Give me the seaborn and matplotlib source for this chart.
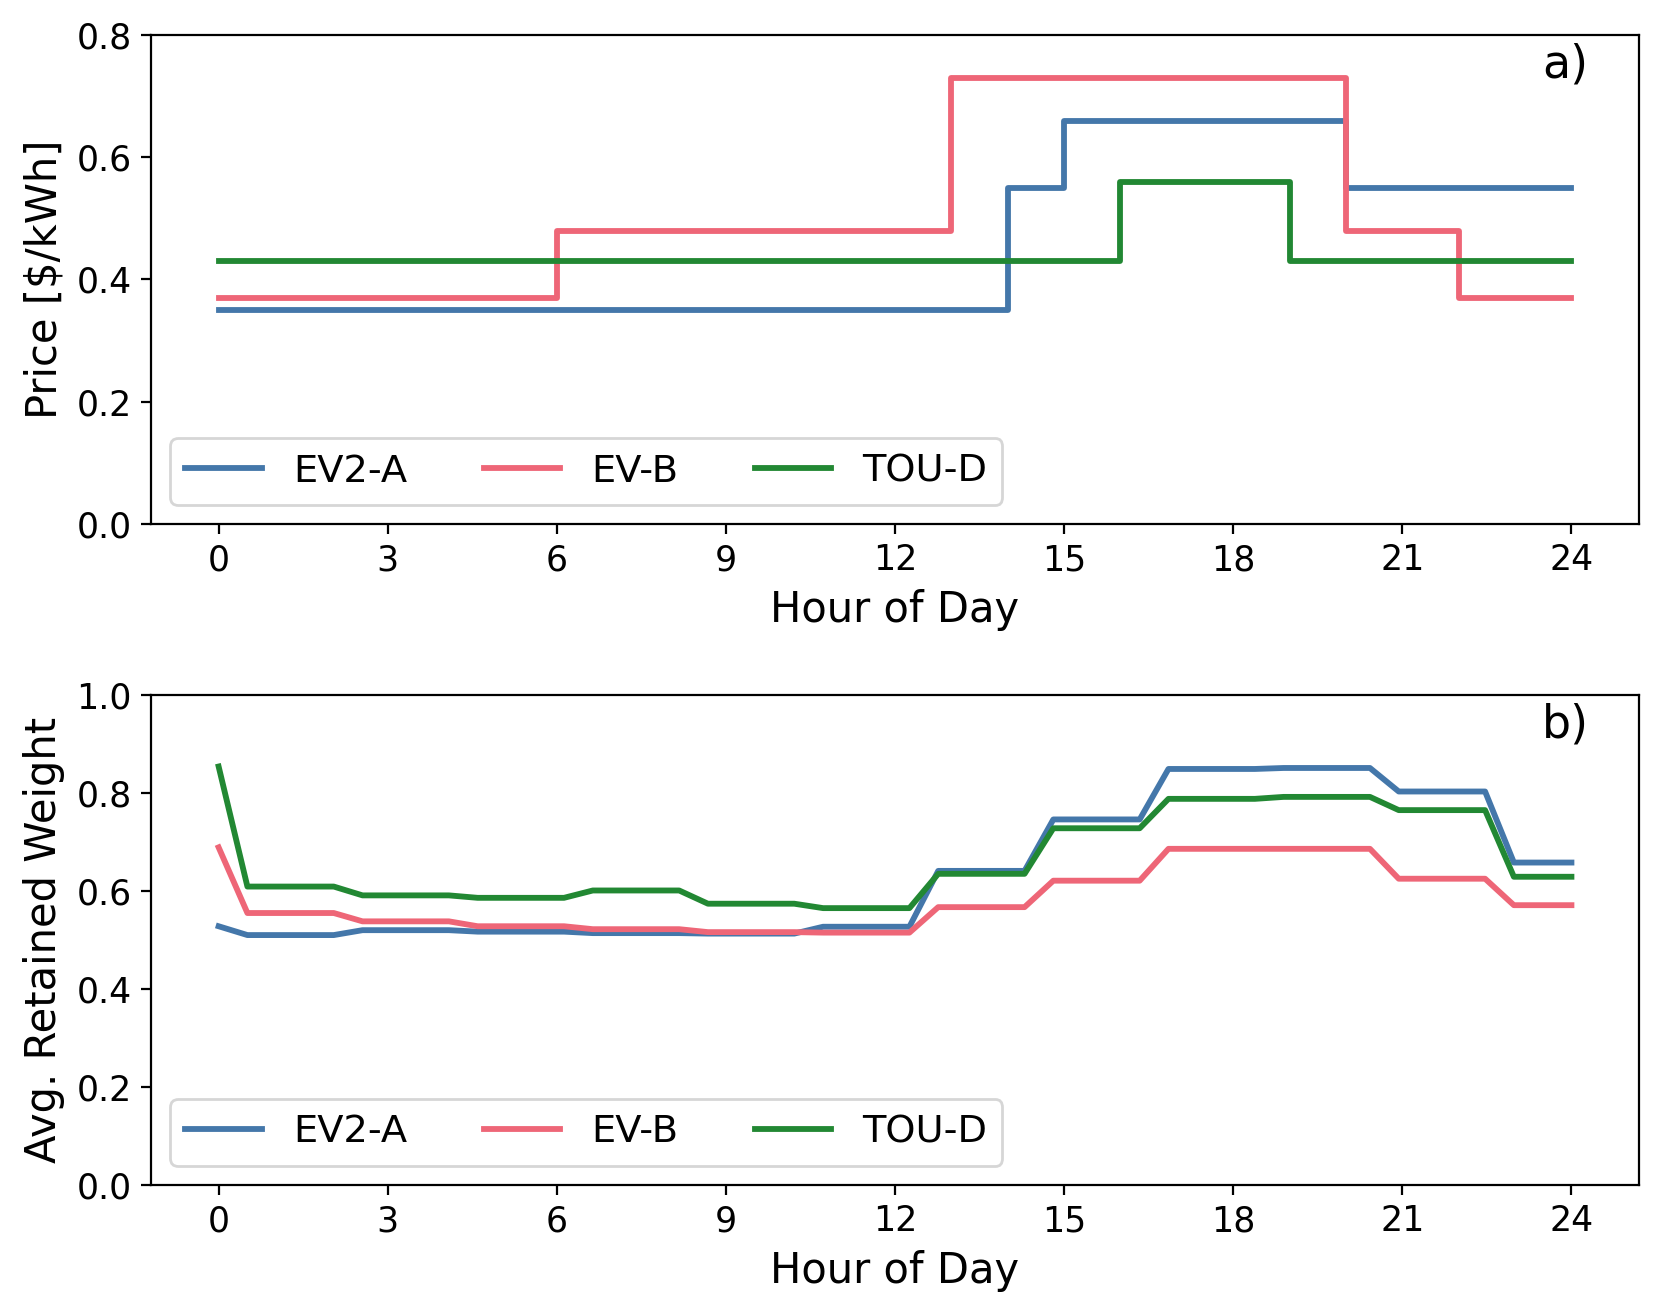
import numpy as np
import pandas as pd
import matplotlib
matplotlib.use("Agg")
import matplotlib.pyplot as plt
import seaborn as sns

# Tarifs (heures de changement, prix en $/kWh) - tracés en escalier
tariffs = ["EV2-A", "EV-B", "TOU-D"]
ev2a_hours = [0, 14, 15, 20, 24]
ev2a_price = [0.35, 0.55, 0.66, 0.55, 0.55]
evb_hours = [0, 6, 13, 20, 22, 24]
evb_price = [0.37, 0.48, 0.73, 0.48, 0.37, 0.37]
toud_hours = [0, 16, 19, 24]
toud_price = [0.43, 0.56, 0.43, 0.43]

# Poids retenu moyen (48 pas sur la journée)
hours_b = np.linspace(0, 24, 48)
ev2a_weight = ([0.528] + [0.510] * 4 + [0.520] * 4 + [0.517] * 4 + [0.514] * 4
               + [0.513] * 4 + [0.527] * 4 + [0.641] * 4 + [0.746] * 4
               + [0.849] * 4 + [0.851] * 4 + [0.803] * 4 + [0.658] * 3)
evb_weight = ([0.689] + [0.555] * 4 + [0.538] * 4 + [0.528] * 4 + [0.522] * 4
              + [0.516] * 4 + [0.515] * 4 + [0.567] * 4 + [0.621] * 4
              + [0.686] * 4 + [0.686] * 4 + [0.625] * 4 + [0.571] * 3)
toud_weight = ([0.854] + [0.609] * 4 + [0.591] * 4 + [0.586] * 4 + [0.601] * 4
               + [0.574] * 4 + [0.565] * 4 + [0.635] * 4 + [0.728] * 4
               + [0.788] * 4 + [0.792] * 4 + [0.765] * 4 + [0.629] * 3)

palette = {"EV2-A": "#4477AA", "EV-B": "#EE6677", "TOU-D": "#228833"}

df_price = pd.concat([
    pd.DataFrame({"Hour": ev2a_hours, "Value": ev2a_price, "Tariff": "EV2-A"}),
    pd.DataFrame({"Hour": evb_hours, "Value": evb_price, "Tariff": "EV-B"}),
    pd.DataFrame({"Hour": toud_hours, "Value": toud_price, "Tariff": "TOU-D"}),
], ignore_index=True)

df_weight = pd.concat([
    pd.DataFrame({"Hour": hours_b, "Value": ev2a_weight, "Tariff": "EV2-A"}),
    pd.DataFrame({"Hour": hours_b, "Value": evb_weight, "Tariff": "EV-B"}),
    pd.DataFrame({"Hour": hours_b, "Value": toud_weight, "Tariff": "TOU-D"}),
], ignore_index=True)

fig, (ax1, ax2) = plt.subplots(2, 1, figsize=(8.305, 6.57), dpi=200)
ax1.set_position([0.0909, 0.6012, 0.9868 - 0.0909, 0.9734 - 0.6012])
ax2.set_position([0.0909, 0.0982, 0.9868 - 0.0909, 0.4711 - 0.0982])

# Graphique a) : prix
sns.lineplot(data=df_price, x="Hour", y="Value", hue="Tariff", hue_order=tariffs,
             palette=palette, drawstyle="steps-post", linewidth=2.1, ax=ax1)
ax1.set_ylim(0, 0.8)
ax1.set_yticks([0.0, 0.2, 0.4, 0.6, 0.8])
ax1.set_ylabel("Price [$/kWh]", fontsize=15)
ax1.text(0.966, 0.914, "a)", transform=ax1.transAxes, ha="right", va="baseline", fontsize=16.5)

# Graphique b) : poids retenu
sns.lineplot(data=df_weight, x="Hour", y="Value", hue="Tariff", hue_order=tariffs,
             palette=palette, linewidth=2.1, ax=ax2)
ax2.set_ylim(0, 1.0)
ax2.set_yticks([0.0, 0.2, 0.4, 0.6, 0.8, 1.0])
ax2.set_ylabel("Avg. Retained Weight", fontsize=15)
ax2.text(0.966, 0.914, "b)", transform=ax2.transAxes, ha="right", va="baseline", fontsize=16.5)

for ax in (ax1, ax2):
    ax.set_xticks(range(0, 25, 3))
    ax.set_xlabel("Hour of Day", fontsize=15)
    ax.tick_params(labelsize=12.5)
    sns.move_legend(ax, "lower left", ncol=3, title=None, fontsize=13.8, frameon=True)

plt.savefig("out.png", dpi=200)
plt.close()
